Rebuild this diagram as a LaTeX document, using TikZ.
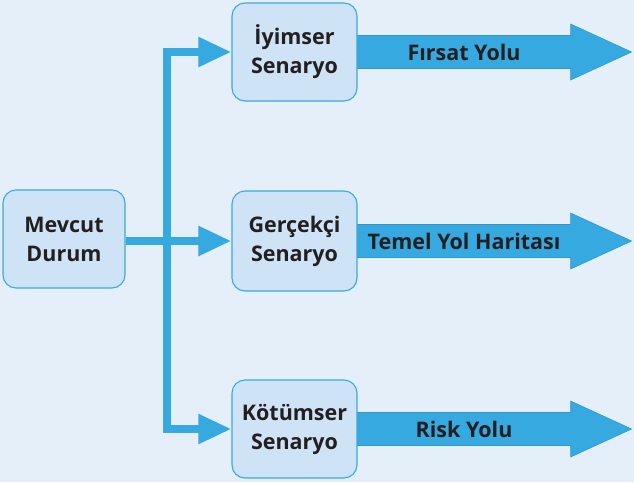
\documentclass[tikz,border=0pt]{standalone}
\usepackage{fontspec}
\setmainfont{Open Sans}
\usetikzlibrary{arrows.meta,calc}
\definecolor{bgblue}{HTML}{E4EFFA}
\definecolor{boxfill}{HTML}{CFE3F6}
\definecolor{boxline}{HTML}{3AAAE0}
\definecolor{flow}{HTML}{36A9E1}
\definecolor{ink}{HTML}{231F20}
\begin{document}
\begin{tikzpicture}[x=1pt,y=-1pt,
  scen/.style={draw=boxline, line width=1.1pt, fill=boxfill, rounded corners=13pt,
    minimum width=125pt, minimum height=98pt, align=center, text=ink,
    font=\fontsize{21.5}{29}\selectfont\bfseries},
  conn/.style={draw=flow, line width=8pt, line join=miter,
    -{Triangle[length=33pt,width=28pt]}},
  pathlabel/.style={text=ink, font=\fontsize{21.5}{28}\selectfont\bfseries}]
\fill[bgblue] (0,0) rectangle (634,482);
\useasboundingbox (0,0) rectangle (634,482);

% situation and scenario boxes
\node[scen, minimum width=122pt] (mev) at (64,239) {Mevcut\\Durum};
\node[scen] (iyi) at (294.5,52) {İyimser\\Senaryo};
\node[scen, minimum height=100pt] (ger) at (294.5,241) {Gerçekçi\\Senaryo};
\node[scen] (kot) at (294.5,429) {Kötümser\\Senaryo};

% branching connectors
\coordinate (split) at (167,241);
\draw[conn] (mev.east |- ger.west) -- (ger.west);
\draw[conn] (split) |- (iyi.west);
\draw[conn] (split) |- (kot.west);

% outgoing wide arrows with their labels
\foreach \b/\t in {iyi/Fırsat Yolu, ger/Temel Yol Haritası, kot/Risk Yolu}{
  \filldraw[fill=flow, draw=flow!90!black, line width=0.6pt]
    ($(\b.east)+(0,-16.5)$) -- ++(213,0) -- ++(0,-11.5)
    -- ($(\b.east)+(274,0)$)
    -- ($(\b.east)+(213,28)$) -- ++(0,-11.5) -- ($(\b.east)+(0,16.5)$) -- cycle;
  \node[pathlabel] (\b-path) at ($(\b.east)+(106.5,0)$) {\t};
}
\end{tikzpicture}
\end{document}
